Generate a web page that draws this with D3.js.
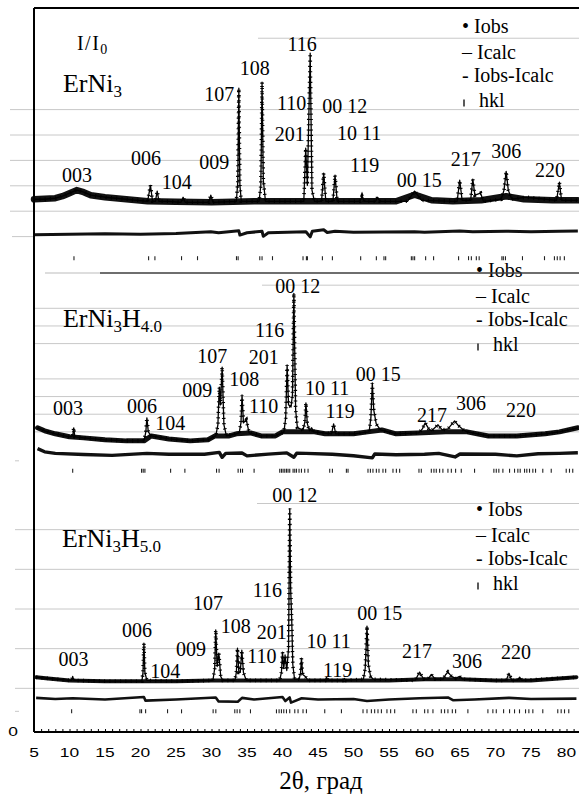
<!DOCTYPE html>
<html><head><meta charset="utf-8">
<script src="https://cdn.jsdelivr.net/npm/d3@7"></script>
<style>body{margin:0;background:#fff}svg{display:block}</style>
</head><body>
<svg id="c" width="579" height="801"></svg>
<script>
// ---------------- DATA ----------------
const xTickLabels = [5,10,15,20,25,30,35,40,45,50,55,60,65,70,75,80];
const legendSymbols = ["•","–","-","|"];
const legendTexts = ["Iobs","Icalc","Iobs-Icalc","hkl"];

// ErNi3
const obs1 = [[5.0,4.7],[6.5,4.7],[8.0,5.1],[9.0,5.9],[10.0,7.1],[11.0,8.3],[12.0,7.5],[13.0,6.3],[15.0,5.5],[18.0,4.7],[21.0,3.9],[21.4,10.2],[21.7,3.9],[22.1,3.9],[22.35,7.9],[22.6,3.9],[24.0,3.9],[25.7,3.5],[26.0,5.5],[26.3,3.5],[29.6,3.5],[29.9,6.3],[30.2,3.5],[33.5,3.9],[33.7,11.4],[33.85,48.4],[34.0,10.2],[34.2,3.9],[36.7,3.9],[36.95,10.2],[37.12,50.8],[37.3,12.2],[37.6,3.9],[43.0,3.9],[43.27,24.8],[43.5,10.2],[43.9,62.2],[44.15,8.3],[44.5,3.9],[45.5,3.9],[45.8,15.0],[46.1,3.9],[47.1,3.9],[47.4,14.2],[47.7,3.9],[50.9,3.9],[51.2,5.9],[51.5,3.9],[53.1,3.9],[53.4,5.5],[53.7,3.9],[57.6,3.9],[58.6,7.9],[59.6,4.3],[64.6,3.9],[64.96,12.2],[65.3,4.3],[66.5,4.3],[66.8,12.6],[67.1,6.3],[67.9,7.1],[68.3,3.9],[70.8,4.7],[71.2,8.3],[71.5,15.7],[71.8,8.3],[72.3,4.7],[74.3,5.5],[78.6,4.3],[79.0,11.4],[79.3,4.3],[81.6,4.3]];
const bg1 = [[5.0,4.7],[8.0,5.1],[9.0,5.9],[10.0,7.1],[11.0,8.3],[12.0,7.5],[13.0,6.3],[15.0,5.5],[18.0,4.7],[21.0,3.9],[25.0,3.7],[30.0,3.5],[36.0,3.9],[43.0,3.9],[50.0,3.9],[56.0,3.9],[58.6,6.5],[61.0,4.3],[64.0,3.9],[68.0,4.3],[71.5,5.9],[74.0,4.7],[78.0,4.3],[81.6,4.3]];
const res1 = [[5,-0.6],[10,-0.4],[15,-0.2],[20,-0.4],[25,-0.1],[29.9,0.6],[31,0.2],[33.85,1.0],[34.0,-0.7],[35,0.2],[37.12,0.8],[37.3,-1.2],[38,0.2],[43.3,0.6],[43.9,-1.4],[44.2,0.8],[45.8,1.4],[46.3,0.3],[47.4,0.8],[50,0.4],[58.6,0.6],[60,0.4],[64.96,0.9],[66.8,0.6],[71.5,0.8],[75,0.6],[79,0.8],[81.6,0.9]];
const hkl1 = [10.63,21.14,22.03,25.78,28.03,33.52,33.75,36.80,37.12,38.59,42.89,43.37,43.51,45.62,47.03,51.01,53.22,54.29,54.53,58.15,58.37,58.61,60.16,61.28,64.80,66.2,66.6,67.3,67.7,70.9,71.1,71.4,73.8,76.9,78.3,78.7,79.1,79.7];
const labels1 = [["003",11.05,11.4],["006",20.76,18.1],["104",25.12,8.7],["009",30.4,16.5],["107",31.1,43.3],["108",36.1,53.5],["116",42.78,63.0],["110",41.3,39.8],["201",41.02,27.6],["00 12",48.76,38.6],["10 11",50.8,28.0],["119",51.58,15.4],["00 15",59.25,9.4],["217",65.8,17.7],["306",71.5,20.9],["220",77.67,13.4]];
const grid1 = [0,10,20,30,40];

// ErNi3H4.0
const obs2 = [[5.5,2.3],[6.5,0.6],[8,-1.1],[10,-2.8],[10.45,-2.3],[10.6,2.3],[10.75,-2.8],[12,-3.4],[15,-4.5],[18,-5.1],[20.5,-5.1],[20.75,0],[20.9,7.9],[21.1,0],[21.5,-2.3],[24,-4.0],[27,-5.1],[29.5,-4.5],[30.6,-2.3],[30.9,4.0],[31.1,25.4],[31.25,15.3],[31.5,36.7],[31.75,4.0],[32.1,-2.3],[33.5,-1.1],[33.9,-0.6],[34.15,5.1],[34.3,20.9],[34.5,5.1],[34.9,6.8],[35.3,-0.6],[37,-2.3],[39,-2.3],[40.2,0],[40.45,7.9],[40.65,37.9],[40.85,15.3],[41.2,14.1],[41.4,20.9],[41.6,78.5],[41.85,12.4],[42.1,2.3],[42.9,1.1],[43.15,5.6],[43.3,16.4],[43.5,4.5],[43.8,0.6],[44.1,2.3],[44.4,0],[46.9,-1.1],[47.2,4.5],[47.5,-1.1],[50,-1.1],[52.2,0],[52.45,7.9],[52.65,27.7],[52.85,12.4],[53.2,4.5],[53.8,1.1],[56,-1.1],[59.2,-0.6],[59.7,1.7],[60.1,5.1],[60.6,1.7],[61.0,0.6],[61.9,4.0],[62.5,1.1],[63.3,1.7],[64.24,6.2],[64.8,3.4],[65.5,1.1],[66,0],[69,-2.3],[73,-2.3],[77,-1.1],[79,0],[81.6,2.3]];
const bg2 = [[5.5,2.3],[6.5,0.6],[8,-1.1],[10,-2.8],[12,-3.4],[15,-4.5],[18,-5.1],[20.5,-5.1],[21.5,-2.3],[24,-4.0],[27,-5.1],[29.5,-4.5],[30.5,-2.3],[32.5,-2.3],[33.5,-1.1],[35.5,-0.6],[37,-2.3],[39,-2.3],[40,0],[44.5,0],[46,-1.1],[50,-1.1],[52,0],[54,1.1],[56,-1.1],[59,-0.6],[63,0],[66,0],[69,-2.3],[73,-2.3],[77,-1.1],[79,0],[81.6,2.3]];
const res2 = [[5.5,3.5],[6.5,1.7],[8,0.8],[12,0.2],[16,-0.3],[20.9,0.8],[24,0.3],[29,0.3],[31.1,1.4],[31.5,-1.4],[32,0.8],[34.3,1.0],[35,-0.6],[38,0.4],[40.6,1.1],[41.6,-1.4],[42,0.9],[43.3,0.8],[47,0.3],[50,-0.5],[52.65,-1.7],[53,0.5],[56,0],[60,0.3],[62,0.8],[64.3,-1.2],[65,0.5],[70,0.3],[73,-0.6],[76,0.6],[79,0.8],[81.6,1.2]];
const hkl2 = [10.45,20.15,20.38,20.62,24.24,26.25,30.71,31.07,33.75,34.09,34.37,36.0,39.61,39.85,40.08,40.32,40.56,40.78,41.02,41.49,41.73,41.97,42.33,42.67,43.13,43.60,46.65,47.03,49.0,49.23,52.04,52.38,52.74,53.22,53.59,54.15,54.53,55.56,56.04,56.50,59.22,59.55,60.96,61.33,61.66,62.13,62.59,63.30,63.78,64.38,65.18,67.05,69.77,70.11,70.47,71.04,71.98,72.68,73.15,73.48,74.09,74.41,74.79,75.26,75.64,76.66,77.85,79.96,80.42,80.88];
const labels2 = [["003",9.78,9.6],["006",20.2,10.7],["104",24.2,1.1],["009",28.0,19.8],["107",30.1,39.0],["108",34.6,26.0],["110",37.36,10.7],["201",37.36,38.4],["116",38.2,53.7],["00 12",42.15,78.5],["10 11",46.3,20.9],["119",48.13,7.9],["00 15",53.48,28.8],["217",61.07,5.6],["306",66.56,12.4],["220",73.6,8.5]];
const grid2 = [0,10,20,30,50,60,70];

// ErNi3H5.0
const obs3 = [[5.3,2.8],[7,2.5],[10,2.0],[10.3,2.0],[10.45,3.0],[10.6,2.0],[15,1.8],[20.2,1.8],[20.35,4.0],[20.48,11.4],[20.62,4.0],[20.9,2.0],[25,1.8],[30.2,2.0],[30.45,5.0],[30.6,14.7],[30.8,5.5],[31.03,8.9],[31.3,3.0],[31.6,2.0],[33.3,2.0],[33.5,4.0],[33.66,10.1],[33.85,4.0],[34.05,4.0],[34.27,9.6],[34.5,4.0],[34.9,2.0],[39.6,2.0],[39.85,4.0],[40.0,9.1],[40.18,5.0],[40.36,8.4],[40.6,4.5],[40.85,10.0],[41.02,45.3],[41.15,25.0],[41.3,17.2],[41.45,6.0],[41.7,2.3],[42.35,2.3],[42.55,4.0],[42.67,7.6],[42.85,3.5],[43.2,3.0],[43.6,2.0],[46.0,2.0],[46.2,2.8],[46.4,2.0],[48.5,2.0],[48.7,2.5],[48.9,2.0],[51.4,2.3],[51.65,5.0],[51.9,15.7],[52.1,6.0],[52.4,3.0],[52.8,2.3],[58.7,2.0],[59.3,4.1],[59.9,2.3],[60.5,2.3],[60.96,3.5],[61.5,2.3],[62.6,2.3],[63.0,3.5],[63.3,4.1],[63.8,3.0],[64.4,2.5],[64.94,3.0],[65.4,2.3],[70,2.0],[71.5,2.0],[71.9,3.8],[72.3,2.0],[73.1,2.0],[73.4,2.8],[73.7,2.0],[81.4,2.8]];
const bg3 = [[5.3,2.8],[7,2.5],[10,2.0],[15,1.8],[20,1.8],[25,1.8],[30,2.0],[35,2.0],[40,2.0],[45,2.0],[50,2.0],[55,2.0],[60,2.3],[65,2.3],[70,2.0],[75,2.0],[81.4,2.8]];
const res3 = [[5.3,0.4],[8,0.1],[10.45,0.3],[15,0],[20.48,0.6],[20.7,-0.3],[25,0],[30.6,0.5],[31,-0.5],[33.7,-0.6],[34.3,0.4],[36,0],[40,0.6],[40.4,-0.4],[41.0,0.5],[41.2,-0.8],[42.7,0.3],[45,0],[50,0.1],[51.9,-0.4],[55,0],[59.3,0.3],[63.3,0.5],[64,-0.2],[67,0],[71.9,0.4],[75,0.1],[81.4,0.2]];
const hkl3 = [10.30,19.92,20.15,20.72,23.81,25.78,30.23,30.61,33.28,33.61,33.99,35.49,39.15,39.52,39.85,40.18,40.56,41.02,41.73,42.19,42.89,43.37,45.95,48.30,51.34,51.90,52.52,52.98,53.45,53.93,54.71,55.23,55.80,58.37,58.85,60.02,60.48,61.19,62.37,62.83,63.30,63.92,64.38,66.11,68.93,69.63,70.11,71.14,71.98,72.68,73.38,74.23,74.70,75.26,76.66,78.77,79.25,79.72,80.32];
const labels3 = [["003",10.56,5.6],["006",19.5,12.9],["104",23.5,2.5],["009",27.1,8.1],["107",29.5,19.7],["108",33.4,13.9],["110",37.1,6.3],["201",38.5,12.4],["116",37.86,23.0],["00 12",41.73,47.1],["10 11",46.5,10.1],["119",47.78,2.8],["00 15",53.69,17.2],["217",58.96,7.6],["306",66.0,5.1],["220",72.9,7.3]];
const grid3 = [0,10,20,30,40];

// sample names: [text, subscript?] parts
const name1 = [["ErNi",0],["3",1]];
const name2 = [["ErNi",0],["3",1],["H",0],["4.0",1]];
const name3 = [["ErNi",0],["3",1],["H",0],["5.0",1]];
const ratioLabel = [["I/I",0],["0",1]];

// ---------------- LAYOUT ----------------
const W = 579;
const serif = "'Liberation Serif','Times New Roman',serif";
const sans = "'Liberation Sans',Arial,sans-serif";
const panels = [
  {obs:obs1,bg:bg1,res:res1,hkl:hkl1,labels:labels1,grid:grid1,name:name1,nameAt:[9.08,46.9],
   range:[262,8],domain:[-20,80],band:6.5,resW:3,resOff:-8.7,hklAt:-18.5,gridX0:10,
   topGrid:{v:68.1,x0:258},shortGrid:{v:-10,x0:12,x1:34},legend:{x:462,y:33}},
  {obs:obs2,bg:bg2,res:res2,hkl:hkl2,labels:labels2,grid:grid2,name:name2,nameAt:[9.08,59.3],
   range:[476,273],domain:[-25,90],band:5,resW:3.4,resOff:-13.0,hklAt:-22.0,gridX0:35,
   topGrid:{v:83.1,x0:262},shortGrid:{v:-16.4,x0:15,x1:19},legend:{x:476,y:277}},
  {obs:obs3,bg:bg3,res:res3,hkl:hkl3,labels:labels3,grid:grid3,name:name3,nameAt:[8.94,35.7],
   range:[728,490],domain:[-10,50],band:4,resW:2.6,resOff:-2.8,hklAt:-5.8,gridX0:15,
   topGrid:{v:46.6,x0:257},shortGrid:{v:-5.8,x0:15,x1:19},legend:{x:476,y:516}}
];
const legendDy = [0,25.5,48.5,73.5];

const svg = d3.select("#c");
const x = d3.scaleLinear().domain([5,80]).range([34,566.5]);
const axisY = 732;

function richText(g, parts, px, py, size, subSize){
  const t = g.append("text").attr("x",px).attr("y",py)
    .attr("font-family",serif).attr("font-size",size).attr("fill","#000");
  let shifted = false;
  parts.forEach(([s,sub])=>{
    const ts = t.append("tspan").text(s);
    if(sub && !shifted){ ts.attr("font-size",subSize).attr("dy",size*0.2); shifted=true; }
    else if(!sub && shifted){ ts.attr("dy",-size*0.2); shifted=false; }
  });
  return t;
}

panels.forEach((P,i)=>{
  const y = d3.scaleLinear().domain(P.domain).range(P.range);
  const g = svg.append("g");
  g.selectAll(".grid").data(P.grid).join("line")
    .attr("x1",P.gridX0).attr("x2",W).attr("y1",d=>y(d)).attr("y2",d=>y(d))
    .attr("stroke","#c8c8c8").attr("stroke-width",1);
  g.append("line").attr("x1",P.topGrid.x0).attr("x2",W)
    .attr("y1",y(P.topGrid.v)).attr("y2",y(P.topGrid.v))
    .attr("stroke","#c8c8c8").attr("stroke-width",1);
  g.append("line").attr("x1",P.shortGrid.x0).attr("x2",P.shortGrid.x1)
    .attr("y1",y(P.shortGrid.v)).attr("y2",y(P.shortGrid.v))
    .attr("stroke","#c8c8c8").attr("stroke-width",1);

  const line = d3.line().x(d=>x(d[0])).y(d=>y(d[1]));
  g.append("path").attr("d",line(P.bg)).attr("fill","none")
    .attr("stroke","#111").attr("stroke-width",P.band)
    .attr("stroke-linejoin","round").attr("stroke-linecap","round");
  g.append("path").attr("d",line(P.obs)).attr("fill","none")
    .attr("stroke","#000").attr("stroke-width",3.6).attr("stroke-dasharray","1.1 4.2");
  g.append("path").attr("d",line(P.obs)).attr("fill","none")
    .attr("stroke","#000").attr("stroke-width",1.3).attr("stroke-linejoin","round");
  const rline = d3.line().x(d=>x(d[0])).y(d=>y(P.resOff+d[1]));
  g.append("path").attr("d",rline(P.res)).attr("fill","none")
    .attr("stroke","#111").attr("stroke-width",P.resW).attr("stroke-linejoin","round");
  g.selectAll(".hkl").data(P.hkl).join("line")
    .attr("x1",d=>x(d)).attr("x2",d=>x(d))
    .attr("y1",y(P.hklAt)-2).attr("y2",y(P.hklAt)+2)
    .attr("stroke","#222").attr("stroke-width",1.1);
  g.selectAll(".lab").data(P.labels).join("text")
    .attr("x",d=>x(d[1])).attr("y",d=>y(d[2]))
    .attr("text-anchor","middle").attr("font-family",serif).attr("font-size",20)
    .attr("fill","#000").text(d=>d[0]);
  richText(g, P.name, x(P.nameAt[0]), y(P.nameAt[1]), 26, 17);
  const L = P.legend;
  legendTexts.forEach((t,k)=>{
    const by = L.y + legendDy[k];
    if(legendSymbols[k]==="|"){
      g.append("line").attr("x1",L.x+2).attr("x2",L.x+2).attr("y1",by-7).attr("y2",by)
        .attr("stroke","#000").attr("stroke-width",1.3);
      g.append("text").attr("x",L.x+17).attr("y",by).attr("font-family",serif)
        .attr("font-size",20).text(t);
    } else {
      g.append("text").attr("x",L.x).attr("y",by).attr("font-family",serif)
        .attr("font-size",20).text(legendSymbols[k]+" "+t);
    }
  });
  if(i===0){
    richText(g, ratioLabel, x(11.05), y(63.4), 20, 14).attr("letter-spacing",1.5);
  }
  if(i===1){
    const yt = y(P.domain[1]);
    svg.append("line").attr("x1",45).attr("x2",W).attr("y1",yt).attr("y2",yt)
      .attr("stroke","#bbb").attr("stroke-width",1.2);
    svg.append("line").attr("x1",100).attr("x2",W).attr("y1",yt).attr("y2",yt)
      .attr("stroke","#000").attr("stroke-width",1.2);
  }
});

svg.append("line").attr("x1",34).attr("x2",W).attr("y1",8).attr("y2",8)
  .attr("stroke","#000").attr("stroke-width",2);
svg.append("line").attr("x1",34).attr("x2",34).attr("y1",8).attr("y2",axisY)
  .attr("stroke","#000").attr("stroke-width",2);

const ax = svg.append("g").attr("transform",`translate(0,${axisY})`)
  .call(d3.axisBottom(x).tickValues(d3.range(5,82,1)).tickSize(-3).tickFormat(""));
ax.select(".domain").remove();
ax.selectAll(".tick line").attr("stroke","#000").attr("stroke-width",1);
svg.append("line").attr("x1",34).attr("x2",W).attr("y1",axisY).attr("y2",axisY)
  .attr("stroke","#000").attr("stroke-width",2);
svg.selectAll(".xl").data(xTickLabels).join("text")
  .attr("transform",d=>`translate(${x(d)},757) scale(1.45,1)`)
  .attr("text-anchor","middle").attr("font-family",sans).attr("font-size",12)
  .attr("fill","#000").text(d=>d);
svg.append("text").attr("transform",`translate(13,736) scale(1.45,1)`)
  .attr("text-anchor","middle").attr("font-family",sans).attr("font-size",12).text("0");
svg.append("text").attr("x",321).attr("y",789).attr("text-anchor","middle")
  .attr("font-family",serif).attr("font-size",25).text("2θ, град");
</script>
</body></html>
